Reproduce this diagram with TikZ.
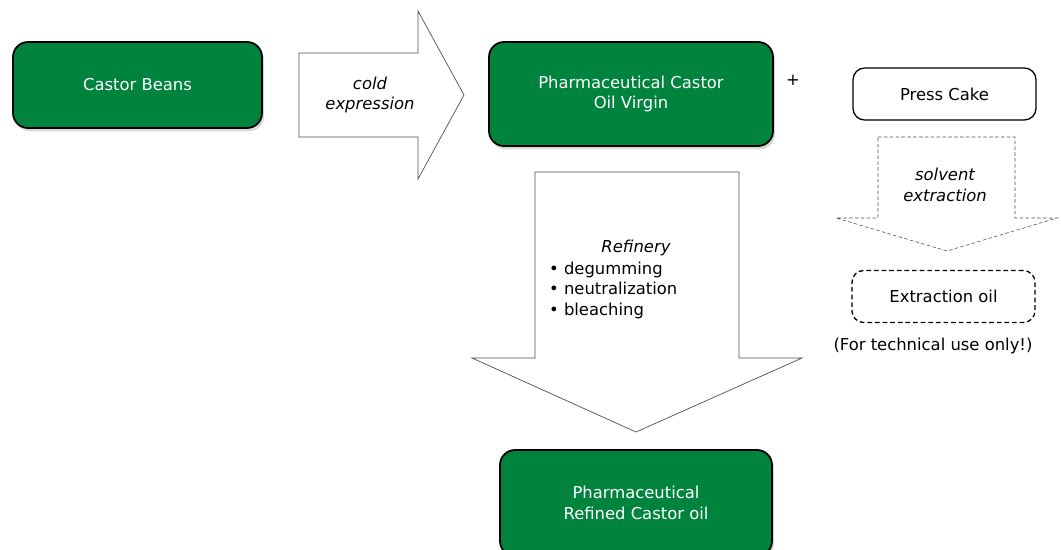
\documentclass[tikz,border=0pt]{standalone}
\usepackage{fontspec}
\setmainfont{DejaVu Sans}
\usetikzlibrary{shadows}

\definecolor{castorgreen}{RGB}{0,132,61}
\definecolor{flowgray}{RGB}{80,80,80}

\begin{document}
\begin{tikzpicture}[x=0.03cm, y=-0.03cm, font=\fontsize{14}{17.5}\selectfont,
	product/.style = {draw, line width=1.5pt, rounded corners=0.45cm, fill=castorgreen, text=white, align=center, drop shadow={shadow xshift=0.6mm, shadow yshift=-1mm, opacity=0.3}},
	residue/.style = {draw, line width=1.1pt, rounded corners=0.35cm, align=center, minimum width=5.49cm, minimum height=1.56cm},
	flow/.style = {draw=flowgray, line width=0.6pt, fill=white},
	label/.style = {align=center, font=\fontsize{14}{17.5}\selectfont\itshape}]
	\useasboundingbox (0,0) rectangle (1061,549);

	% products
	\node[product, minimum width=7.47cm, minimum height=2.58cm] (Beans) at (137.5,85) {Castor Beans};
	\node[product, minimum width=8.52cm, minimum height=3.12cm] (Virgin) at (631,94) {Pharmaceutical Castor\\Oil Virgin};
	\node[product, minimum width=8.16cm, minimum height=3.18cm] (Refined) at (636,503) {Pharmaceutical\\Refined Castor oil};

	% by-products
	\node[residue] (Cake) at (944.5,94) {Press Cake};
	\node[residue, dash pattern=on 4pt off 2.5pt] (Extract) at (943.5,296.5) {Extraction oil};
	\node (Note) at (933,346) {(For technical use only!)};
	\node (Plus) at (793,80) {+};

	% process arrows
	\draw[flow] (299,53) -- (418,53) -- (418,11) -- (464,95) -- (418,179) -- (418,137) -- (299,137) -- cycle;
	\node[label] (Cold) at (370,95) {cold\\expression};

	\draw[flow] (535,172) -- (739,172) -- (739,358) -- (802,358) -- (636,432) -- (472,358) -- (535,358) -- cycle;
	\node[label] (Refinery) at (636,248) {Refinery};
	\node[anchor=west, align=left] (Steps) at (545,290) {\textbullet\ degumming\\\textbullet\ neutralization\\\textbullet\ bleaching};

	\draw[flow, densely dashed, line width=0.5pt] (878,137) -- (1015,137) -- (1015,218) -- (1057,218) -- (947,251) -- (836,218) -- (878,218) -- cycle;
	\node[label] (Solvent) at (945,185) {solvent\\extraction};
\end{tikzpicture}
\end{document}
